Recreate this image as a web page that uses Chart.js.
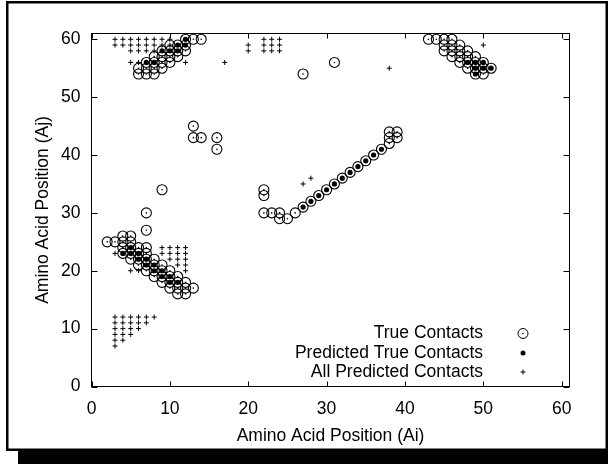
<!DOCTYPE html>
<html>
<head>
<meta charset="utf-8">
<script src="https://cdn.jsdelivr.net/npm/chart.js@4/dist/chart.umd.min.js"></script>
<style>
  body { margin: 0; background: #fff; }
</style>
</head>
<body>
<canvas id="contactChart" width="608" height="464"></canvas>
<script>
// axis ticks (same on both axes)
const axisTicks = [0, 10, 20, 30, 40, 50, 60];

// True Contacts (open circles)
const trueX = [4, 5, 2, 3, 4, 5, 4, 5, 6, 7, 4, 5, 6, 7, 5, 6, 7, 8, 6, 7, 8, 9, 7, 8, 9, 10, 8, 9, 10, 11, 9, 10, 11, 12, 10, 11, 12, 13, 11, 12, 7, 7, 9, 13, 13, 14, 16, 16,
  22, 22, 22, 23, 24, 24, 25, 26, 27, 28, 29, 30, 31, 32, 33, 34, 35, 36, 37, 38, 38, 39, 38, 39,
  6, 7, 8, 6, 7, 8, 9, 7, 8, 9, 10, 8, 9, 10, 11, 9, 10, 11, 12, 10, 11, 12, 12, 13, 14,
  27, 31,
  43, 44, 45, 46, 45, 46, 47, 45, 46, 47, 48, 46, 47, 48, 49, 47, 48, 49, 50, 48, 49, 50, 51, 49, 50];
const trueY = [26, 26, 25, 25, 25, 25, 24, 24, 24, 24, 23, 23, 23, 23, 22, 22, 22, 22, 21, 21, 21, 21, 20, 20, 20, 20, 19, 19, 19, 19, 18, 18, 18, 18, 17, 17, 17, 17, 16, 16, 27, 30, 34, 45, 43, 43, 43, 41,
  34, 33, 30, 30, 30, 29, 29, 30, 31, 32, 33, 34, 35, 36, 37, 38, 39, 40, 41, 42, 43, 43, 44, 44,
  54, 54, 54, 55, 55, 55, 55, 56, 56, 56, 56, 57, 57, 57, 57, 58, 58, 58, 58, 59, 59, 59, 60, 60, 60,
  54, 56,
  60, 60, 60, 60, 59, 59, 59, 58, 58, 58, 58, 57, 57, 57, 57, 56, 56, 56, 56, 55, 55, 55, 55, 54, 54];

// Predicted True Contacts (filled dots)
const predX = [4, 5, 5, 6, 6, 7, 7, 8, 8, 9, 9, 10, 10, 11,
  27, 28, 29, 30, 31, 32, 33, 34, 35, 36, 37,
  7, 8, 9, 10, 11, 12, 12, 11,
  48, 49, 50, 49, 50, 51, 49];
const predY = [23, 24, 23, 23, 22, 22, 21, 21, 20, 20, 19, 19, 18, 18,
  31, 32, 33, 34, 35, 36, 37, 38, 39, 40, 41,
  56, 56, 58, 58, 59, 59, 60, 58,
  56, 56, 56, 55, 55, 55, 54];

// All Predicted Contacts (plus marks)
const allX = [3, 4, 5, 6, 7, 8, 3, 4, 5, 6, 7, 3, 4, 5, 6, 3, 4, 5, 3, 4, 3,
  3, 5, 6, 9, 10, 11, 12, 9, 10, 11, 12, 10, 11, 12, 11, 12, 12,
  3, 4, 5, 6, 7, 8, 9, 10, 3, 4, 5, 6, 7, 8, 9, 10, 5, 6, 7, 8, 5, 6, 12,
  20, 20, 22, 23, 24, 22, 23, 24, 22, 23, 24, 17, 38,
  27, 28, 50];
const allY = [12, 12, 12, 12, 12, 12, 11, 11, 11, 11, 11, 10, 10, 10, 10, 9, 9, 9, 8, 8, 7,
  23, 20, 20, 24, 24, 24, 24, 23, 23, 23, 23, 22, 22, 22, 21, 21, 20,
  60, 60, 60, 60, 60, 60, 60, 60, 59, 59, 59, 59, 59, 59, 59, 59, 58, 58, 58, 58, 56, 56, 56,
  59, 58, 60, 60, 60, 59, 59, 59, 58, 58, 58, 56, 55,
  35, 36, 59];

const legendLabels = ['True Contacts', 'Predicted True Contacts', 'All Predicted Contacts'];

const fontFamily = '"Liberation Sans", Arial, sans-serif';

function toPoints(xs, ys) {
  return xs.map((x, i) => ({x: x, y: ys[i]}));
}

// page frame, plot border, inward ticks and the key
const gnuplotLook = {
  id: 'gnuplotLook',
  beforeDraw(chart) {
    const ctx = chart.ctx;
    ctx.save();
    ctx.fillStyle = '#fff';
    ctx.fillRect(0, 0, chart.width, chart.height);
    ctx.fillStyle = '#000';
    ctx.fillRect(18, 450, 590, 14);
    ctx.strokeStyle = '#000';
    ctx.lineWidth = 2.5;
    ctx.strokeRect(7.25, 2.25, 599.5, 447.5);
    ctx.restore();
  },
  afterDatasetsDraw(chart) {
    const {ctx, chartArea: a} = chart;
    const xs = chart.scales.x;
    const ys = chart.scales.y;
    ctx.save();
    ctx.strokeStyle = '#000';
    ctx.lineWidth = 1;
    ctx.strokeRect(a.left, a.top, a.right - a.left, a.bottom - a.top);
    ctx.beginPath();
    axisTicks.forEach(v => {
      const px = Math.round(xs.getPixelForValue(v)) + 0.5;
      ctx.moveTo(px, a.bottom);
      ctx.lineTo(px, a.bottom - 5);
      ctx.moveTo(px, a.top);
      ctx.lineTo(px, a.top + 5);
      const py = Math.round(ys.getPixelForValue(v)) + 0.5;
      ctx.moveTo(a.left, py);
      ctx.lineTo(a.left + 6, py);
      ctx.moveTo(a.right, py);
      ctx.lineTo(a.right - 6, py);
    });
    ctx.stroke();

    // key
    const textRight = 483;
    const symX = 523;
    const rows = [333.5, 353, 372];
    ctx.font = '17.5px ' + fontFamily;
    ctx.fillStyle = '#000';
    ctx.textAlign = 'right';
    ctx.textBaseline = 'middle';
    legendLabels.forEach((t, i) => ctx.fillText(t, textRight, rows[i]));
    ctx.beginPath();
    ctx.arc(symX, rows[0], 5, 0, Math.PI * 2);
    ctx.stroke();
    ctx.beginPath();
    ctx.arc(symX, rows[0], 0.8, 0, Math.PI * 2);
    ctx.fill();
    ctx.beginPath();
    ctx.arc(symX, rows[1], 2.5, 0, Math.PI * 2);
    ctx.fill();
    ctx.beginPath();
    ctx.moveTo(symX - 2.5, rows[2]);
    ctx.lineTo(symX + 2.5, rows[2]);
    ctx.moveTo(symX, rows[2] - 2.5);
    ctx.lineTo(symX, rows[2] + 2.5);
    ctx.stroke();
    ctx.restore();
  }
};

const tickFont = {family: fontFamily, size: 17.5};

new Chart(document.getElementById('contactChart'), {
  type: 'scatter',
  data: {
    datasets: [
      {
        label: legendLabels[1],
        data: toPoints(predX, predY),
        pointStyle: 'circle',
        pointRadius: 2.6,
        borderWidth: 0,
        backgroundColor: '#000'
      },
      {
        label: legendLabels[0],
        data: toPoints(trueX, trueY),
        pointStyle: 'circle',
        pointRadius: 5,
        borderWidth: 1.1,
        borderColor: '#000',
        backgroundColor: 'rgba(0,0,0,0)'
      },
      {
        // centre dot of each true-contact circle
        label: 'centre',
        data: toPoints(trueX, trueY),
        pointStyle: 'circle',
        pointRadius: 0.8,
        borderWidth: 0,
        backgroundColor: '#000'
      },
      {
        label: legendLabels[2],
        data: toPoints(allX, allY),
        pointStyle: 'cross',
        pointRadius: 2.5,
        borderWidth: 1,
        borderColor: '#000'
      }
    ]
  },
  options: {
    responsive: false,
    animation: false,
    devicePixelRatio: 1,
    events: [],
    layout: {padding: {left: 0, top: 33.5, right: 38.5, bottom: 17.5}},
    plugins: {
      legend: {display: false},
      tooltip: {enabled: false}
    },
    scales: {
      x: {
        type: 'linear',
        min: 0,
        max: 61,
        afterBuildTicks: s => { s.ticks = axisTicks.map(v => ({value: v})); },
        afterFit: s => { s.height = 60; },
        grid: {display: false, drawTicks: false},
        border: {display: false},
        ticks: {color: '#000', font: tickFont, padding: 12, maxRotation: 0, autoSkip: false},
        title: {display: true, text: 'Amino Acid Position (Ai)', color: '#000', font: tickFont, padding: {top: 0, bottom: 0}}
      },
      y: {
        type: 'linear',
        min: 0,
        max: 61,
        afterBuildTicks: s => { s.ticks = axisTicks.map(v => ({value: v})); },
        afterFit: s => { s.width = 91.5; },
        grid: {display: false, drawTicks: false},
        border: {display: false},
        ticks: {color: '#000', font: tickFont, padding: 11, autoSkip: false},
        title: {display: true, text: 'Amino Acid Position (Aj)', color: '#000', font: tickFont, padding: {top: 33, bottom: 0}}
      }
    }
  },
  plugins: [gnuplotLook]
});
</script>
</body>
</html>
